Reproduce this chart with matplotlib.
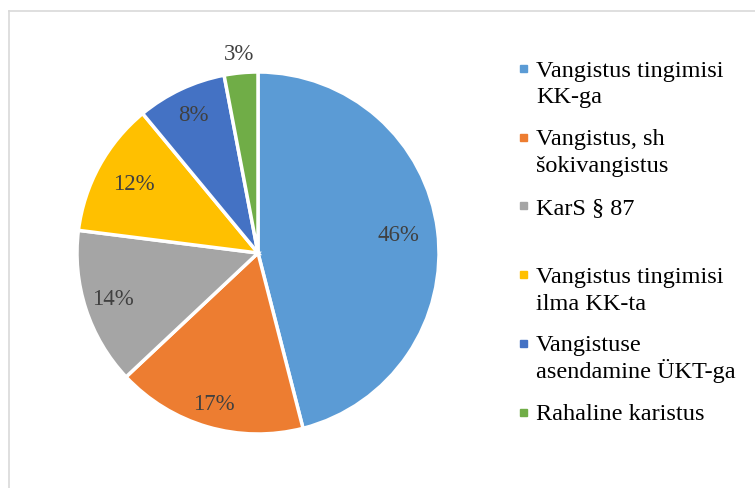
import math
import matplotlib
matplotlib.use("Agg")
from matplotlib import pyplot as plt
from matplotlib.lines import Line2D
from matplotlib.patches import Rectangle

# data
categories = ["Vangistus tingimisi\nKK-ga", "Vangistus, sh\nšokivangistus", "KarS § 87",
              "Vangistus tingimisi\nilma KK-ta", "Vangistuse\nasendamine ÜKT-ga", "Rahaline karistus"]
shares = [46, 17, 14, 12, 8, 3]
colors = ["#5B9BD5", "#ED7D31", "#A5A5A5", "#FFC000", "#4472C4", "#70AD47"]
label_dist = [0.78, 0.87, 0.84, 0.78, 0.84, 1.10]  # how far out each % label sits

plt.rcParams["font.family"] = ["Liberation Serif", "DejaVu Serif"]

W, H = 755, 488
fig = plt.figure(figsize=(W / 100, H / 100), dpi=100)

# pie centred at (258, 253) px, radius 181 px
cx, cy, r = 258, 253, 181
ax = fig.add_axes([(cx - r) / W, (H - cy - r) / H, 2 * r / W, 2 * r / H])
wedges, _ = ax.pie(shares, colors=colors, startangle=90, counterclock=False,
                   wedgeprops=dict(edgecolor="white", linewidth=2.5))
ax.set_xlim(-1, 1)
ax.set_ylim(-1, 1)
ax.set_aspect("equal")

for w, v, d in zip(wedges, shares, label_dist):
    ang = math.radians((w.theta1 + w.theta2) / 2)
    ax.text(d * math.cos(ang), d * math.sin(ang), f"{v}%", ha="center", va="center",
            fontsize=16.5, color="#404040")

# legend drawn by hand so every entry gets the same height (like Excel)
y0 = 68.5
step = 68.7
pitch = 27
for i, (lab, c) in enumerate(zip(categories, colors)):
    yc = y0 + step * i
    fig.patches.append(Rectangle(((520) / W, (H - yc - 3.5) / H), 7 / W, 7 / H,
                                 transform=fig.transFigure, color=c))
    # one text per line so accents (Ü) don't push the line spacing
    for j, line in enumerate(lab.split("\n")):
        fig.text(536 / W, (H - yc - 8 - pitch * j) / H, line, ha="left", va="baseline",
                 fontsize=17.5, color="black")

# chart area border (only top/left visible in the crop)
fig.add_artist(Line2D([8.5 / W, 1], [1 - 11 / H, 1 - 11 / H], color="#d9d9d9", lw=1.2))
fig.add_artist(Line2D([8.5 / W, 8.5 / W], [0, 1 - 11 / H], color="#d9d9d9", lw=1.2))

fig.savefig("out.png", dpi=100)
